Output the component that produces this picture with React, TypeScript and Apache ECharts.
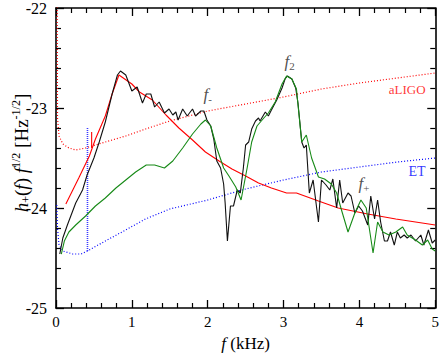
import React, { useEffect, useRef } from "react";
import * as echarts from "echarts";

// ---- data (x in kHz, y = log10 strain) ----
const aLIGO: [number, number][] = [
  [0.015, -21.9], [0.02, -23.1], [0.04, -23.28], [0.09, -23.36], [0.17, -23.4], [0.26, -23.42],
  [0.39, -23.4], [0.65, -23.34], [0.92, -23.28], [1.18, -23.21], [1.5, -23.13], [2.0, -23.03],
  [2.5, -22.96], [3.0, -22.89], [3.5, -22.81], [4.0, -22.75], [4.5, -22.7], [5.0, -22.65],
];
const ET: [number, number][] = [
  [0.01, -23.97], [0.02, -24.2], [0.04, -24.37], [0.09, -24.43], [0.22, -24.46], [0.33, -24.46],
  [0.415, -24.43], [0.65, -24.33], [0.87, -24.24], [1.18, -24.11], [1.5, -24.01], [2.0, -23.92],
  [2.5, -23.81], [3.0, -23.72], [3.5, -23.64], [4.0, -23.59], [4.5, -23.54], [5.0, -23.5],
];
const fitCurve: [number, number][] = [
  [0.13, -23.96], [0.3, -23.7], [0.44, -23.48], [0.52, -23.31], [0.65, -23.08], [0.74, -22.86],
  [0.83, -22.67], [1.0, -22.76], [1.1, -22.84], [1.27, -22.92], [1.45, -23.07], [1.62, -23.2],
  [1.8, -23.32], [1.97, -23.44], [2.15, -23.53], [2.32, -23.61], [2.5, -23.68], [2.67, -23.75],
  [2.84, -23.8], [3.04, -23.85], [3.17, -23.85], [3.46, -23.93], [3.72, -24.0], [4.11, -24.06],
  [4.48, -24.11], [5.0, -24.17],
];
const blackCurve: [number, number][] = [
  [0.05, -24.46], [0.09, -24.3], [0.15, -24.17], [0.26, -23.95], [0.35, -23.82], [0.41, -23.67],
  [0.5, -23.5], [0.57, -23.34], [0.65, -23.14], [0.74, -22.86], [0.81, -22.67], [0.85, -22.63],
  [0.92, -22.67], [1.0, -22.83], [1.07, -22.79], [1.14, -22.95], [1.19, -22.86], [1.25, -22.86],
  [1.3, -22.99], [1.36, -22.94], [1.43, -23.05], [1.49, -23.01], [1.54, -23.07], [1.58, -23.04],
  [1.61, -23.12], [1.67, -23.01], [1.73, -23.08], [1.8, -23.01], [1.84, -23.08], [1.91, -23.03],
  [1.95, -23.03], [1.99, -23.12], [2.04, -23.18], [2.08, -23.31], [2.12, -23.53], [2.17, -23.6],
  [2.21, -23.76], [2.23, -23.95], [2.26, -24.33], [2.3, -23.98], [2.34, -23.98], [2.39, -23.82],
  [2.43, -23.85], [2.47, -23.6], [2.5, -23.37], [2.54, -23.34], [2.58, -23.21], [2.63, -23.13],
  [2.67, -23.1], [2.69, -23.13], [2.76, -23.04], [2.8, -23.08], [2.84, -23.02], [2.91, -22.92],
  [2.98, -22.8], [3.02, -22.71], [3.05, -22.68], [3.11, -22.71], [3.16, -22.8], [3.19, -22.95],
  [3.24, -23.34], [3.27, -23.4], [3.3, -23.37], [3.34, -23.85], [3.39, -23.72], [3.46, -24.14],
  [3.5, -23.72], [3.56, -23.77], [3.61, -23.82], [3.65, -23.71], [3.7, -24.0], [3.74, -23.72],
  [3.78, -23.95], [3.85, -23.85], [3.89, -23.88], [3.94, -24.05], [3.99, -23.98], [4.04, -24.03],
  [4.11, -24.17], [4.15, -23.88], [4.2, -24.11], [4.24, -23.92], [4.28, -24.14], [4.33, -24.33],
  [4.37, -24.33], [4.41, -24.24], [4.46, -24.37], [4.5, -24.24], [4.54, -24.3], [4.59, -24.27],
  [4.63, -24.3], [4.68, -24.27], [4.74, -24.33], [4.81, -24.27], [4.85, -24.37], [4.91, -24.22],
  [4.96, -24.35], [5.0, -24.32],
];
const greenCurve: [number, number][] = [
  [0.07, -24.46], [0.11, -24.33], [0.17, -24.24], [0.26, -24.17], [0.39, -24.08], [0.52, -23.98],
  [0.65, -23.9], [0.79, -23.8], [0.92, -23.72], [1.05, -23.64], [1.19, -23.57], [1.3, -23.57],
  [1.43, -23.6], [1.54, -23.53], [1.67, -23.4], [1.8, -23.26], [1.91, -23.16], [1.97, -23.12],
  [2.04, -23.18], [2.12, -23.4], [2.21, -23.6], [2.28, -23.68], [2.37, -23.79], [2.44, -23.92],
  [2.52, -23.6], [2.58, -23.34], [2.65, -23.18], [2.74, -23.1], [2.8, -23.05], [2.89, -22.94],
  [2.98, -22.76], [3.04, -22.68], [3.11, -22.71], [3.17, -22.81], [3.24, -23.34], [3.3, -23.27],
  [3.37, -23.5], [3.46, -23.69], [3.54, -23.71], [3.63, -23.76], [3.7, -23.85], [3.76, -24.01],
  [3.85, -24.24], [3.94, -24.05], [4.02, -23.92], [4.09, -24.0], [4.18, -24.45], [4.24, -24.14],
  [4.31, -24.24], [4.39, -24.27], [4.48, -24.24], [4.57, -24.19], [4.63, -24.27], [4.74, -24.32],
  [4.83, -24.37], [4.9, -24.32], [4.96, -24.41], [5.0, -24.43],
];
const blueMarker: [number, number][] = [[0.415, -23.2], [0.415, -24.43]];
const redMarker: [number, number][] = [[0.47, -23.24], [0.47, -23.4]];

const xTicks = { min: 0, max: 5, interval: 1 };
const yTicks = { min: -25, max: -22, interval: 1 };

// annotation labels: [x, y, text]
const annotations: [number, number, string][] = [
  [2.0, -22.86, "{f|f}{s|-}"],
  [3.08, -22.53, "{f|f}{s|2}"],
  [4.06, -23.75, "{f|f}{s|+}"],
  [4.63, -22.81, "{r|aLIGO}"],
  [4.76, -23.63, "{b|ET}"],
];

const SERIF = "'Liberation Serif', 'DejaVu Serif', serif";

export default function App() {
  const ref = useRef<HTMLDivElement>(null);
  useEffect(() => {
    if (!ref.current) return;
    const chart = echarts.init(ref.current, null, { renderer: "svg" });
    const axisCommon = {
      axisLine: { show: true, onZero: false, lineStyle: { color: "#000", width: 1.6 } },
      axisTick: { show: true, inside: true, length: 8, lineStyle: { color: "#000", width: 1.3 } },
      minorTick: { show: true, splitNumber: 5, length: 5, lineStyle: { color: "#000", width: 1.2 } },
      splitLine: { show: false },
      minorSplitLine: { show: false },
    };
    const line = (data: [number, number][], color: string, width: number, type: any = "solid", z = 2) => ({
      type: "line",
      data,
      showSymbol: false,
      symbol: "none",
      z,
      lineStyle: { color, width, type },
      emphasis: { disabled: true },
    });
    chart.setOption({
      animation: false,
      grid: { left: 56, right: 3, top: 4, bottom: 42 },
      xAxis: [
        {
          type: "value", ...xTicks, position: "bottom", ...axisCommon,
          axisLabel: { color: "#000", fontFamily: SERIF, fontSize: 15, margin: 6 },
          name: "{i|f}{n| (kHz)}",
          nameLocation: "middle",
          nameGap: 27,
          nameTextStyle: {
            rich: {
              i: { fontFamily: SERIF, fontStyle: "italic", fontSize: 17, color: "#000" },
              n: { fontFamily: SERIF, fontSize: 17, color: "#000" },
            },
          },
        },
        { type: "value", ...xTicks, position: "top", ...axisCommon, axisLabel: { show: false } },
      ],
      yAxis: [
        {
          type: "value", ...yTicks, position: "left", ...axisCommon,
          axisLabel: { color: "#000", fontFamily: SERIF, fontSize: 16, margin: 9 },
        },
        { type: "value", ...yTicks, position: "right", ...axisCommon, axisLabel: { show: false } },
      ],
      graphic: [
        {
          type: "text",
          x: 21,
          y: 153,
          rotation: Math.PI / 2,
          style: {
            text: "{i|h}{sb|+}{n|(}{i|f}{n|) }{i|f}{sp|1/2}{n| [Hz}{sp|-1/2}{n|]}",
            align: "center",
            verticalAlign: "middle",
            rich: {
              i: { fontFamily: SERIF, fontStyle: "italic", fontSize: 19, lineHeight: 22, fill: "#000" },
              n: { fontFamily: SERIF, fontSize: 19, lineHeight: 22, fill: "#000" },
              sp: { fontFamily: SERIF, fontSize: 12, lineHeight: 11, verticalAlign: "top", fill: "#000" },
              sb: { fontFamily: SERIF, fontSize: 12, lineHeight: 11, verticalAlign: "bottom", fill: "#000" },
            },
          },
        },
      ],
      series: [
        line(aLIGO, "#ff0000", 1.2, [1, 2]),
        line(ET, "#0000ff", 1.2, [1, 2]),
        line(blueMarker, "#3a3aff", 1.6, [1, 1]),
        line(redMarker, "#ff0000", 1.1),
        line(fitCurve, "#ff0000", 1.1),
        line(blackCurve, "#111111", 1.1, "solid", 3),
        line(greenCurve, "#178a17", 1.1, "solid", 4),
        {
          type: "scatter",
          symbolSize: 0,
          data: annotations.map((a) => ({ value: [a[0], a[1]], label: { formatter: a[2] } })),
          z: 5,
          label: {
            show: true,
            position: "inside",
            rich: {
              f: { fontFamily: SERIF, fontStyle: "italic", fontSize: 17, lineHeight: 20, color: "#222" },
              s: { fontFamily: SERIF, fontSize: 11, lineHeight: 9, verticalAlign: "bottom", color: "#222" },
              r: { fontFamily: SERIF, fontSize: 13, color: "#ff0000" },
              b: { fontFamily: SERIF, fontSize: 14, color: "#0000ff" },
            },
          },
          emphasis: { disabled: true },
        },
      ],
    });
    return () => chart.dispose();
  }, []);
  return <div ref={ref} style={{ width: 442, height: 357, position: "absolute", left: 0, top: 0 }} />;
}
